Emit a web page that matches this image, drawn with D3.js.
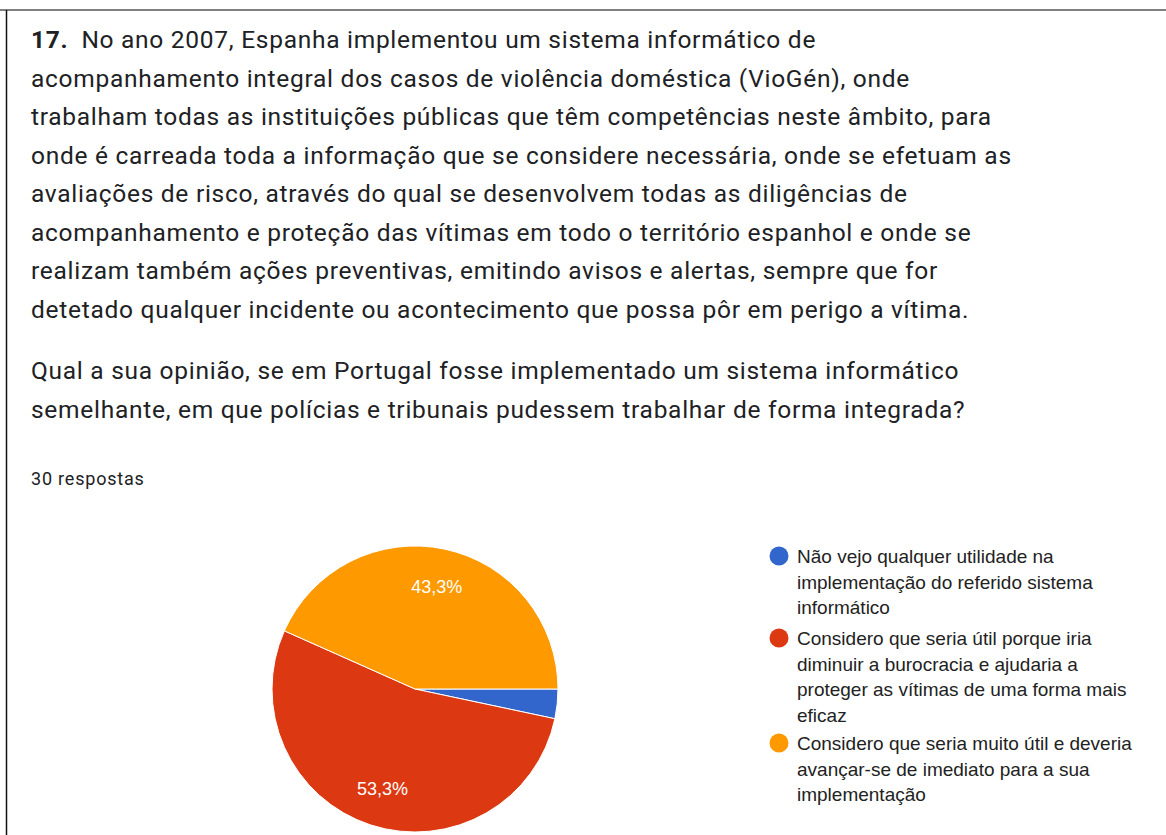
<!DOCTYPE html>
<html><head><meta charset="utf-8">
<script src="https://cdn.jsdelivr.net/npm/d3@7"></script>
<style>
html,body{margin:0;padding:0;background:#fff;}
svg{display:block;}
</style></head>
<body>
<svg id="chart" width="1166" height="835"></svg>
<script>
const questionNumber = "17.";
const questionLines = [
  "No ano 2007, Espanha implementou um sistema informático de",
  "acompanhamento integral dos casos de violência doméstica (VioGén), onde",
  "trabalham todas as instituições públicas que têm competências neste âmbito, para",
  "onde é carreada toda a informação que se considere necessária, onde se efetuam as",
  "avaliações de risco, através do qual se desenvolvem todas as diligências de",
  "acompanhamento e proteção das vítimas em todo o território espanhol e onde se",
  "realizam também ações preventivas, emitindo avisos e alertas, sempre que for",
  "detetado qualquer incidente ou acontecimento que possa pôr em perigo a vítima."
];
const questionLines2 = [
  "Qual a sua opinião, se em Portugal fosse implementado um sistema informático",
  "semelhante, em que polícias e tribunais pudessem trabalhar de forma integrada?"
];
const responsesLabel = "30 respostas";
const categories = [
  ["Não vejo qualquer utilidade na", "implementação do referido sistema", "informático"],
  ["Considero que seria útil porque iria", "diminuir a burocracia e ajudaria a", "proteger as vítimas de uma forma mais", "eficaz"],
  ["Considero que seria muito útil e deveria", "avançar-se de imediato para a sua", "implementação"]
];
const counts = [1, 16, 13];
const sliceLabels = ["3,3%", "53,3%", "43,3%"];
const colors = ["#3366cc", "#dc3912", "#ff9900"];

const svg = d3.select("#chart");

// frame
svg.append("line").attr("x1",0).attr("x2",1166).attr("y1",10).attr("y2",10)
  .attr("stroke","#808080").attr("stroke-width",2);
svg.append("line").attr("x1",6.5).attr("x2",6.5).attr("y1",10).attr("y2",835)
  .attr("stroke","#111").attr("stroke-width",1.5);

// question text
const tfont = "Roboto, 'Noto Sans', Arial, sans-serif";
const TS = 24.5, LS = 0.72;
const t1 = svg.append("text").attr("x",31).attr("y",48)
  .attr("font-family",tfont).attr("font-size",TS).attr("letter-spacing",LS).attr("fill","#202124");
t1.append("tspan").attr("font-weight","bold").text(questionNumber);
t1.append("tspan").attr("dx",13).text(questionLines[0]);
questionLines.slice(1).forEach((l,i)=>{
  svg.append("text").attr("x",31).attr("y",48+(i+1)*38.5)
    .attr("font-family",tfont).attr("font-size",TS).attr("letter-spacing",LS).attr("fill","#202124").text(l);
});
questionLines2.forEach((l,i)=>{
  svg.append("text").attr("x",31).attr("y",379+i*38.5)
    .attr("font-family",tfont).attr("font-size",TS).attr("letter-spacing",LS).attr("fill","#202124").text(l);
});
svg.append("text").attr("x",31).attr("y",485)
  .attr("font-family",tfont).attr("font-size",18).attr("letter-spacing",0.8).attr("fill","#202124").text(responsesLabel);

// pie
const cx = 415, cy = 689, R = 143;
const pie = d3.pie().sort(null).value(d=>d)
  .startAngle(Math.PI/2).endAngle(Math.PI/2 + 2*Math.PI);
const arcs = pie(counts);
const arc = d3.arc().innerRadius(0).outerRadius(R);
const labelArc = d3.arc().innerRadius(105).outerRadius(105);
const g = svg.append("g").attr("transform",`translate(${cx},${cy})`);
g.selectAll("path").data(arcs).join("path")
  .attr("d",arc).attr("fill",(d,i)=>colors[i])
  .attr("stroke","#fff").attr("stroke-width",1);
g.selectAll("text").data(arcs).join("text")
  .filter(d=>(d.endAngle-d.startAngle) > 0.5)
  .attr("transform",d=>`translate(${labelArc.centroid(d)})`)
  .attr("text-anchor","middle").attr("dy","0.35em")
  .attr("font-family","Arial, 'Liberation Sans', sans-serif").attr("font-size",18)
  .attr("fill","#fff").text(d=>sliceLabels[d.index]);

// legend
const lfont = "Arial, 'Liberation Sans', sans-serif";
const groupStarts = [563, 645, 750];
const legend = svg.append("g");
categories.forEach((lines,i)=>{
  legend.append("circle").attr("cx",779).attr("cy",groupStarts[i]-7).attr("r",9.5).attr("fill",colors[i]);
  lines.forEach((l,j)=>{
    legend.append("text").attr("x",797).attr("y",groupStarts[i]+j*25.5)
      .attr("font-family",lfont).attr("font-size",19).attr("fill","#222").text(l);
  });
});
</script>
</body></html>
